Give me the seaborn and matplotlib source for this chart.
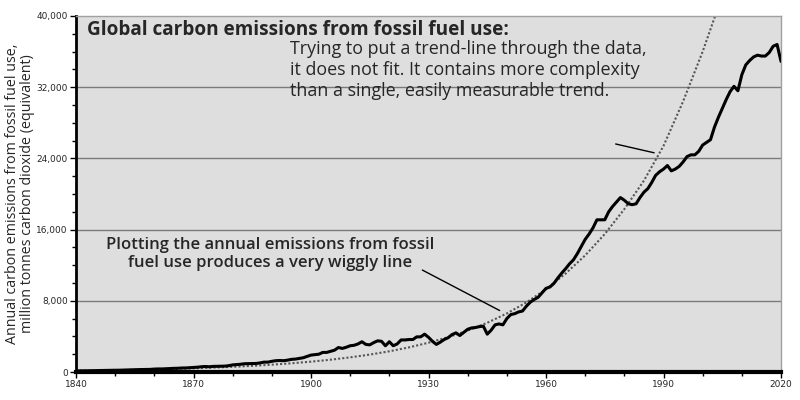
import pandas as pd
import matplotlib.pyplot as plt
import matplotlib.ticker as mticker
import seaborn as sns

# Annual emissions, million tonnes CO2
years = list(range(1840, 2021))
emissions = [
    121, 125, 130, 135, 145, 160, 165, 175, 175, 185,
    198, 200, 215, 225, 250, 255, 270, 275, 275, 295,
    330, 345, 345, 370, 390, 410, 420, 450, 455, 480,
    500, 540, 590, 620, 590, 630, 640, 650, 660, 710,
    800, 830, 870, 930, 940, 950, 960, 1020, 1110, 1110,
    1200, 1270, 1290, 1270, 1330, 1420, 1450, 1520, 1600, 1750,
    1900, 1950, 2000, 2200, 2200, 2320, 2450, 2750, 2650, 2780,
    2950, 3000, 3150, 3400, 3100, 3050, 3300, 3500, 3450, 2950,
    3400, 2950, 3150, 3600, 3600, 3650, 3650, 3950, 3950, 4250,
    3900, 3450, 3100, 3350, 3650, 3850, 4200, 4400, 4100, 4450,
    4800, 4950, 5000, 5100, 5150, 4250, 4700, 5300, 5400, 5300,
    6000, 6450, 6550, 6750, 6850, 7400, 7850, 8150, 8400, 8900,
    9400, 9550, 9950, 10550, 11100, 11600, 12150, 12600, 13300, 14100,
    14900, 15500, 16200, 17100, 17100, 17100, 18000, 18600, 19100, 19600,
    19300, 18900, 18800, 18900, 19600, 20200, 20600, 21300, 22100, 22500,
    22800, 23200, 22600, 22800, 23100, 23600, 24200, 24400, 24400, 24800,
    25500, 25800, 26100, 27500, 28600, 29600, 30600, 31500, 32100, 31600,
    33400, 34500, 35000, 35400, 35600, 35500, 35500, 35900, 36600, 36800,
    34900,
]

# Dotted trend line, sampled every 5 years
trend_years = list(range(1840, 2010, 5))
trend_values = [
    145, 173, 205, 244, 291, 346, 411, 489, 581, 691,
    822, 977, 1163, 1383, 1644, 1955, 2325, 2765, 3288, 3910,
    4650, 5530, 6576, 7820, 9300, 11060, 13100, 15500, 18300, 21500,
    25400, 30400, 36000, 42300,
]

y_ticks = [0, 8000, 16000, 24000, 32000, 40000]
x_ticks = [1840, 1870, 1900, 1930, 1960, 1990, 2020]

df = pd.DataFrame({'year': years, 'emissions': emissions})
trend_df = pd.DataFrame({'year': trend_years, 'trend': trend_values})

sns.set_style("ticks")
plt.rcParams['font.family'] = ['Open Sans', 'DejaVu Sans']

fig = plt.figure(figsize=(8, 4), dpi=100)
ax = fig.add_axes([0.095, 0.07, 0.88125, 0.89])
ax.set_facecolor('#dedede')

# horizontal gridlines
for v in y_ticks[1:-1]:
    ax.axhline(v, color='#7a7a7a', lw=1, zorder=1)

sns.lineplot(data=trend_df, x='year', y='trend', ax=ax, color='#555555',
             lw=1.5, linestyle=(0, (1, 1)), zorder=2)
sns.lineplot(data=df, x='year', y='emissions', ax=ax, color='black',
             lw=2.2, zorder=3)

ax.set_xlim(1840, 2020)
ax.set_ylim(0, 40000)
ax.set_xticks(x_ticks)
ax.set_yticks(y_ticks)
ax.xaxis.set_minor_locator(mticker.MultipleLocator(10))
ax.yaxis.set_minor_locator(mticker.MultipleLocator(2000))
ax.yaxis.set_major_formatter(mticker.StrMethodFormatter('{x:,.0f}'))
ax.tick_params(axis='both', which='major', length=4, width=1, color='black',
               labelsize=6.5, pad=2)
ax.tick_params(axis='both', which='minor', length=3, width=1, color='black')
for lab in ax.get_xticklabels() + ax.get_yticklabels():
    lab.set_family('DejaVu Sans')

ax.set_xlabel('')
ax.set_ylabel('Annual carbon emissions from fossil fuel use,\n'
              'million tonnes carbon dioxide (equivalent)',
              fontsize=10.3, linespacing=1.0, labelpad=1)

ax.spines['left'].set_linewidth(2)
ax.spines['bottom'].set_linewidth(3)
ax.spines['left'].set_color('black')
ax.spines['bottom'].set_color('black')
ax.spines['top'].set_color('#a0a0a0')
ax.spines['right'].set_color('#a0a0a0')
ax.spines['top'].set_linewidth(1)
ax.spines['right'].set_linewidth(1)

ax.text(1842.8, 38400, 'Global carbon emissions from fossil fuel use:',
        fontsize=13.7, fontweight='bold', va='center', ha='left')

ax.text(1894.6, 37300,
        'Trying to put a trend-line through the data,\n'
        'it does not fit. It contains more complexity\n'
        'than a single, easily measurable trend.',
        fontsize=12.9, va='top', ha='left', linespacing=1.2)
ax.annotate('', xy=(1988.3, 24560), xytext=(1977.1, 25690),
            arrowprops=dict(arrowstyle='-', color='black', lw=1))

ax.text(1889.5, 15200,
        'Plotting the annual emissions from fossil\n'
        'fuel use produces a very wiggly line',
        fontsize=12, fontweight='semibold', va='top', ha='center',
        linespacing=1.2)
ax.annotate('', xy=(1948.8, 6760), xytext=(1927.8, 11600),
            arrowprops=dict(arrowstyle='-', color='black', lw=1))

fig.savefig('out.png', dpi=100)
